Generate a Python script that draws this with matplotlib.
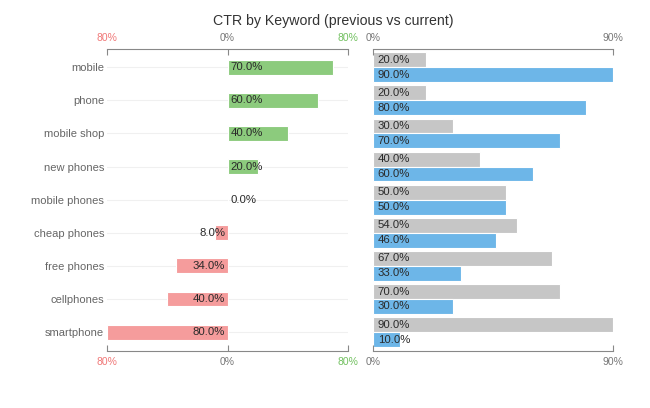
import numpy as np
import matplotlib
matplotlib.use("Agg")
import matplotlib.pyplot as plt

plt.rcParams['font.family'] = ['Liberation Sans', 'DejaVu Sans']

keywords = ["mobile", "phone", "mobile shop", "new phones", "mobile phones",
            "cheap phones", "free phones", "cellphones", "smartphone"]
previous = [20, 20, 30, 40, 50, 54, 67, 70, 90]
current = [90, 80, 70, 60, 50, 46, 33, 30, 10]
change = [c - p for c, p in zip(current, previous)]

green = "#8CCB7D"
red = "#F59C9C"
blue = "#6DB6E8"
grey = "#C6C6C6"
axis_grey = "#888888"
text_dark = "#2A2A2A"

fig = plt.figure(figsize=(6.5, 4.08), dpi=100)
axl = fig.add_axes([107 / 650, 57 / 408, 241 / 650, 302 / 408])
axr = fig.add_axes([373 / 650, 57 / 408, 240 / 650, 302 / 408])

y = np.arange(len(keywords))

# left: change between previous and current
for yi in y:
    axl.axhline(yi, color="#F0F0F0", lw=0.8, zorder=0)
cols = [green if v >= 0 else red for v in change]
axl.barh(y, change, height=0.45, color=cols, edgecolor="white", lw=0.8, zorder=2)
for yi, v in zip(y, change):
    if v >= 0:
        axl.text(2, yi, f"{v:.1f}%", ha="left", va="center", fontsize=8.2,
                 color=text_dark, zorder=3)
    else:
        axl.text(-1.5, yi, f"{abs(v):.1f}%", ha="right", va="center", fontsize=8.2,
                 color=text_dark, zorder=3)
axl.set_xlim(-80, 80)
axl.set_ylim(8.57, -0.55)
axl.set_yticks(y)
axl.set_yticklabels(keywords, fontsize=8, color="#666666")
axl.tick_params(axis="y", length=0, pad=2)

# right: previous vs current
axr.barh(y - 0.225, previous, height=0.45, color=grey, edgecolor="white", lw=0.8)
axr.barh(y + 0.225, current, height=0.45, color=blue, edgecolor="white", lw=0.8)
for yi, p, c in zip(y, previous, current):
    axr.text(1.8, yi - 0.225, f"{p:.1f}%", ha="left", va="center", fontsize=8.2, color=text_dark)
    axr.text(1.8, yi + 0.225, f"{c:.1f}%", ha="left", va="center", fontsize=8.2, color=text_dark)
axr.set_xlim(0, 90)
axr.set_ylim(8.57, -0.55)
axr.set_yticks([])

for ax in (axl, axr):
    for s in ("left", "right"):
        ax.spines[s].set_visible(False)
    for s in ("top", "bottom"):
        ax.spines[s].set_color(axis_grey)
        ax.spines[s].set_linewidth(0.8)
    ax.tick_params(axis="x", top=True, labeltop=True, direction="in", length=4,
                   width=0.8, color=axis_grey, labelsize=7.5, labelcolor="#777777", pad=4)

axl.set_xticks([-80, 0, 80])
axl.set_xticklabels(["80%", "0%", "80%"])
for t in axl.xaxis.get_major_ticks():
    pos = t.get_loc()
    if pos < 0:
        t.label1.set_color("#F07878")
        t.label2.set_color("#F07878")
    elif pos > 0:
        t.label1.set_color("#72C060")
        t.label2.set_color("#72C060")

axr.set_xticks([0, 90])
axr.set_xticklabels(["0%", "90%"])

fig.text(333 / 650, 387 / 408, "CTR by Keyword (previous vs current)", ha="center",
         va="center", fontsize=10.2, color="#333333")

fig.savefig("out.png", dpi=100, facecolor="white")
